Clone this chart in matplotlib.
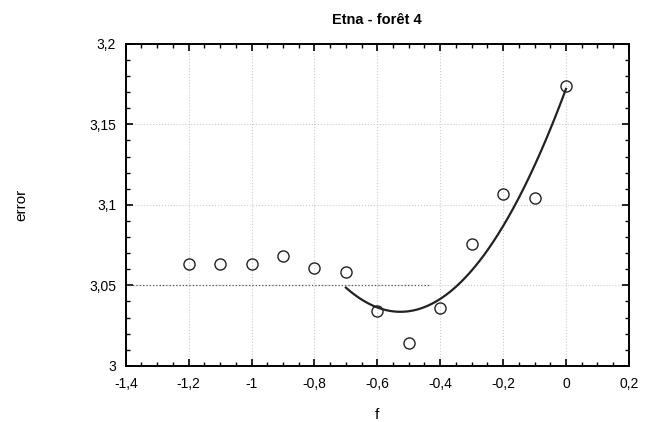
import numpy as np
import matplotlib.pyplot as plt
from matplotlib.ticker import MultipleLocator, FuncFormatter

plt.rcParams['font.family'] = ['Liberation Sans', 'DejaVu Sans']

f = [-1.2, -1.1, -1.0, -0.9, -0.8, -0.7, -0.6, -0.5, -0.4, -0.3, -0.2, -0.1, 0.0]
error = [3.063, 3.063, 3.063, 3.068, 3.061, 3.058, 3.034, 3.014, 3.036, 3.076, 3.107, 3.104, 3.174]

# quadratic fit over f >= -0.7
fit_f = [v for v in f if v >= -0.7]
fit_e = error[len(f) - len(fit_f):]
coef = np.polyfit(fit_f, fit_e, 2)
xs = np.linspace(-0.7, 0.0, 100)
ys = np.polyval(coef, xs)


def comma(v, p):
    if abs(v) < 1e-9:
        return '0'
    return ('%g' % round(v, 3)).replace('.', ',')


fig = plt.figure(figsize=(6.45, 4.22), dpi=100)
ax = fig.add_axes([0.195, 0.133, 0.78, 0.763])

ax.grid(True, which='major', linestyle=':', color='#cccccc', linewidth=0.8)
ax.plot([-1.4, -0.43], [3.05, 3.05], linestyle=':', color='#555555', linewidth=0.9)
ax.plot(xs, ys, color='#222222', linewidth=1.6)
ax.plot(f, error, linestyle='none', marker='o', markersize=8,
        markerfacecolor='none', markeredgecolor='#222222', markeredgewidth=1.0)

ax.set_xlim(-1.4, 0.2)
ax.set_ylim(3.0, 3.2)
ax.xaxis.set_major_locator(MultipleLocator(0.2))
ax.xaxis.set_minor_locator(MultipleLocator(0.05))
ax.yaxis.set_major_locator(MultipleLocator(0.05))
ax.yaxis.set_minor_locator(MultipleLocator(0.01))
ax.xaxis.set_major_formatter(FuncFormatter(comma))
ax.yaxis.set_major_formatter(FuncFormatter(comma))
ax.tick_params(which='both', direction='in', top=True, right=True, labelsize=10)
ax.tick_params(axis='x', which='major', pad=8)
ax.tick_params(axis='y', which='major', pad=7)
ax.tick_params(which='major', length=5, width=1.2)
ax.tick_params(which='minor', length=3, width=1.0)
for s in ax.spines.values():
    s.set_linewidth(1.4)

ax.set_title('Etna - forêt 4', fontsize=10.5, fontweight='bold', pad=14)
ax.set_xlabel('f', fontsize=11, labelpad=12)
ax.set_ylabel('error', fontsize=11, labelpad=44)

fig.savefig('out.png', dpi=100)
